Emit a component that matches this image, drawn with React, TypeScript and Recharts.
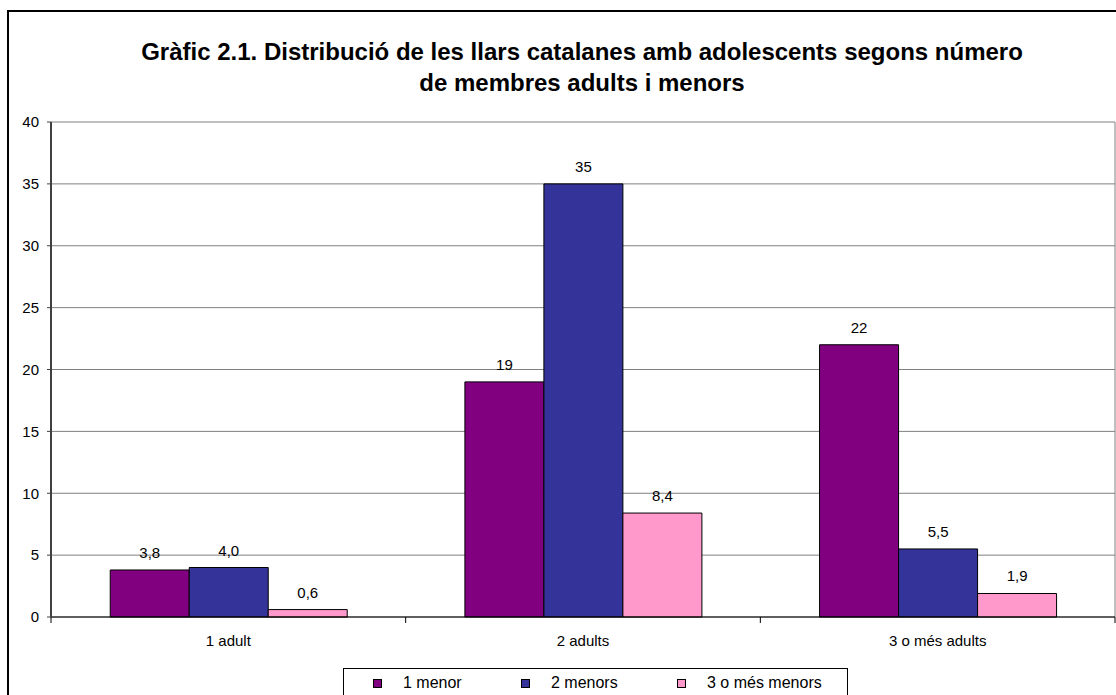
import React from 'react';
import { BarChart, Bar, XAxis, YAxis, CartesianGrid, LabelList } from 'recharts';

const titleLines = [
  'Gràfic 2.1. Distribució de les llars catalanes amb adolescents segons número',
  'de membres adults i menors',
];
const categories = ['1 adult', '2 adults', '3 o més adults'];
const seriesNames = ['1 menor', '2 menors', '3 o més menors'];
const menor1 = [3.8, 19, 22];
const menors2 = [4.0, 35, 5.5];
const menors3 = [0.6, 8.4, 1.9];
const yTicks = [0, 5, 10, 15, 20, 25, 30, 35, 40];
const colors = ['#800080', '#333399', '#FF99CC'];

const data = categories.map((c, i) => ({
  cat: c,
  s1: menor1[i],
  s2: menors2[i],
  s3: menors3[i],
}));

const fmt = (v: any) => {
  const n = Number(v);
  return n >= 10 ? String(Math.round(n)) : n.toFixed(1).replace('.', ',');
};

const FONT = '"Liberation Sans", Arial, sans-serif';
const legendWidths = [148, 156, 170];
const TICK_MARGIN = 18;
const TICK_LEN = 6;

const CatTick = (props: any) => {
  const { x, y, payload, index } = props;
  const off = payload && payload.offset ? payload.offset : 0;
  const axisY = y - TICK_MARGIN;
  return (
    <g>
      {index === 0 && (
        <line x1={x - off} x2={x - off} y1={axisY} y2={axisY + TICK_LEN} stroke="#000" />
      )}
      <line x1={x + off} x2={x + off} y1={axisY} y2={axisY + TICK_LEN} stroke="#000" />
      <text x={x} y={y} dy="0.71em" textAnchor="middle" fill="#000" fontSize={15} fontFamily={FONT}>
        {payload.value}
      </text>
    </g>
  );
};

const rightEdge = (p: any) => {
  const o = p && p.offset ? p.offset : { left: 0, width: 0 };
  return [o.left + o.width];
};

export default function App() {
  return (
    <div style={{ position: 'absolute', left: 0, top: 0, width: 1116, height: 695, overflow: 'hidden', background: '#fff', fontFamily: FONT }}>
      <div style={{ position: 'absolute', left: 7, top: 10, width: 1200, height: 720, border: '2px solid #000', boxSizing: 'border-box' }} />
      <div style={{ position: 'absolute', left: 0, top: 36, width: 1164, textAlign: 'center', fontWeight: 'bold', fontSize: 24, lineHeight: '31px', color: '#000' }}>
        {titleLines.map((t, i) => (<div key={i}>{t}</div>))}
      </div>
      <div style={{ position: 'absolute', left: 0, top: 0 }}>
        <BarChart width={1116} height={695} data={data} margin={{ top: 122, right: 1, bottom: 48, left: 11 }} barCategoryGap="16.7%" barGap={0}>
          <CartesianGrid stroke="#808080" strokeWidth={1} verticalCoordinatesGenerator={rightEdge} />
          <XAxis dataKey="cat" height={30} axisLine={{ stroke: '#000', strokeWidth: 1 }} tickLine={false} tickSize={0} tickMargin={TICK_MARGIN} tick={<CatTick />} interval={0} />
          <YAxis domain={[0, 40]} ticks={yTicks} width={40} axisLine={{ stroke: '#404040', strokeWidth: 2 }} tickLine={{ stroke: '#404040' }} tickSize={4} tickMargin={8} tick={{ fill: '#000', fontSize: 15, fontFamily: FONT }} interval={0} />
          {['s1', 's2', 's3'].map((k, i) => (
            <Bar key={k} dataKey={k} name={seriesNames[i]} fill={colors[i]} stroke="#000" strokeWidth={1} isAnimationActive={false}>
              <LabelList dataKey={k} position="top" offset={12} formatter={fmt} style={{ fill: '#000', fontSize: 15, fontFamily: FONT }} />
            </Bar>
          ))}
        </BarChart>
      </div>
      <div style={{ position: 'absolute', left: 343, top: 668, width: 505, height: 40, border: '1px solid #000', boxSizing: 'border-box', display: 'flex', alignItems: 'flex-start', paddingLeft: 29, paddingTop: 5 }}>
        {seriesNames.map((n, i) => (
          <div key={n} style={{ display: 'flex', alignItems: 'center', width: legendWidths[i], fontSize: 16, color: '#000', height: 18 }}>
            <span style={{ display: 'inline-block', width: 7, height: 7, background: colors[i], border: '1px solid #000', marginRight: 21, flexShrink: 0 }} />
            <span>{n}</span>
          </div>
        ))}
      </div>
    </div>
  );
}
